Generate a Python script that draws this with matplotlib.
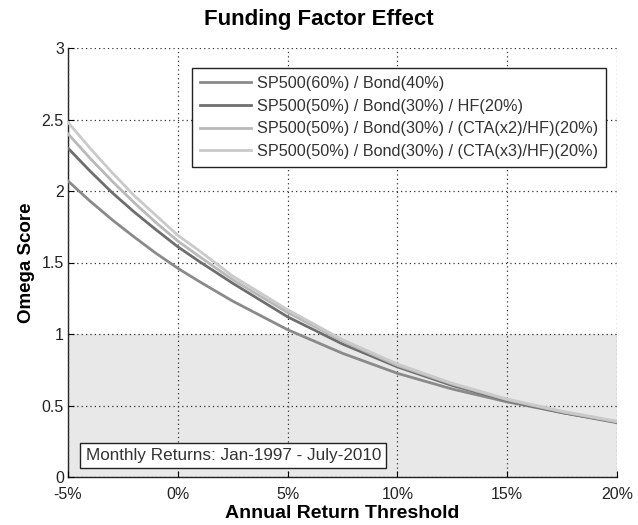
import matplotlib
matplotlib.use("Agg")
import matplotlib.pyplot as plt

plt.rcParams['font.family'] = ['Liberation Sans', 'DejaVu Sans']

# Annual return threshold (%)
threshold = [-5, -4, -3, -2, -1, 0, 1, 2.5, 5, 7.5, 10, 12.5, 15, 17.5, 20]

# Omega score per portfolio
sp_bond = [2.07, 1.93, 1.80, 1.68, 1.565, 1.46, 1.365, 1.23, 1.03, 0.865, 0.725, 0.615, 0.525, 0.45, 0.385]
sp_bond_hf = [2.30, 2.14, 1.99, 1.855, 1.73, 1.61, 1.505, 1.355, 1.12, 0.93, 0.77, 0.64, 0.535, 0.45, 0.38]
sp_bond_cta2 = [2.40, 2.23, 2.07, 1.92, 1.78, 1.65, 1.54, 1.38, 1.15, 0.95, 0.78, 0.65, 0.54, 0.455, 0.385]
sp_bond_cta3 = [2.48, 2.30, 2.13, 1.97, 1.83, 1.69, 1.58, 1.405, 1.17, 0.96, 0.79, 0.655, 0.545, 0.46, 0.39]

labels = ["SP500(60%) / Bond(40%)",
          "SP500(50%) / Bond(30%) / HF(20%)",
          "SP500(50%) / Bond(30%) / (CTA(x2)/HF)(20%)",
          "SP500(50%) / Bond(30%) / (CTA(x3)/HF)(20%)"]
colors = ["#8a8a8a", "#6e6e6e", "#b9b9b9", "#cacaca"]

xticks = [-5, 0, 5, 10, 15, 20]
xticklabels = ["-5%", "0%", "5%", "10%", "15%", "20%"]
yticks = [0, 0.5, 1, 1.5, 2, 2.5, 3]
yticklabels = ["0", "0.5", "1", "1.5", "2", "2.5", "3"]

fig = plt.figure(figsize=(6.38, 5.25), dpi=100)
ax = fig.add_axes([68 / 638, 1 - 477 / 525, (617 - 68) / 638, (477 - 48) / 525])

# Shaded zone below an Omega of 1
ax.axhspan(0, 1, color="#e8e8e8", zorder=0, lw=0)

series = [sp_bond, sp_bond_hf, sp_bond_cta2, sp_bond_cta3]
for vals, lab, col in zip(series, labels, colors):
    ax.plot(threshold, vals, color=col, lw=2.0, label=lab, zorder=3,
            solid_joinstyle="round")

ax.set_xlim(-5, 20)
ax.set_ylim(0, 3)
ax.set_xticks(xticks)
ax.set_xticklabels(xticklabels)
ax.set_yticks(yticks)
ax.set_yticklabels(yticklabels)
ax.tick_params(direction="in", length=4, labelsize=11.5, labelcolor="#222222",
               top=False, right=False)
ax.tick_params(axis="x", pad=7)
ax.tick_params(axis="y", pad=3)

ax.grid(True, linestyle=(0, (1, 2.5)), color="#333333", lw=0.9)
ax.set_axisbelow(False)
for s in ["top", "right"]:
    ax.spines[s].set_visible(False)
for s in ["left", "bottom"]:
    ax.spines[s].set_color("#222222")
    ax.spines[s].set_linewidth(1.0)

ax.set_xlabel("Annual Return Threshold", fontsize=14, fontweight="bold", labelpad=2)
ax.set_ylabel("Omega Score", fontsize=13.5, fontweight="bold", labelpad=5)
fig.text(0.5, 1 - 20 / 525, "Funding Factor Effect", ha="center", va="center",
         fontsize=16, fontweight="bold")

leg = ax.legend(loc="upper left", bbox_to_anchor=((192 - 68) / 549, 1 - (68 - 48) / 429),
                borderaxespad=0, fontsize=11.7, frameon=True, fancybox=False,
                handlelength=3.1, labelspacing=0.47, borderpad=0.5, handletextpad=0.4)
leg.get_frame().set_edgecolor("#222222")
leg.get_frame().set_linewidth(1.0)
leg.get_frame().set_alpha(1)
for t in leg.get_texts():
    t.set_color("#333333")

ax.text(-4.2, 0.15, "Monthly Returns: Jan-1997 - July-2010", fontsize=12.3,
        color="#333333", va="center", ha="left", zorder=5,
        bbox=dict(boxstyle="square,pad=0.3", fc="white", ec="#222222", lw=1.0))

fig.savefig("out.png", dpi=100)
